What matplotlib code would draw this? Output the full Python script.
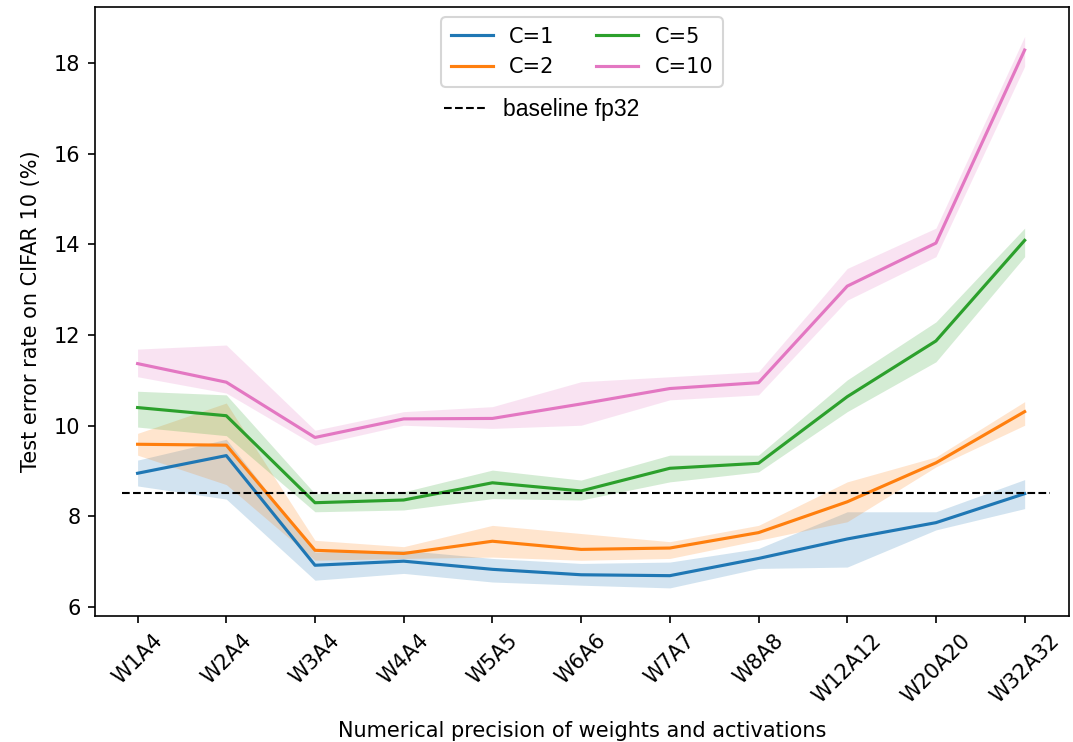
import matplotlib
matplotlib.use("Agg")
import matplotlib.pyplot as plt
import numpy as np

# precision settings on the x axis
labels = ["W1A4", "W2A4", "W3A4", "W4A4", "W5A5", "W6A6", "W7A7", "W8A8",
          "W12A12", "W20A20", "W32A32"]

# mean test error (%) for each C, with lower / upper band
c1 = [8.95, 9.34, 6.92, 7.01, 6.83, 6.71, 6.69, 7.07, 7.50, 7.86, 8.50]
c1_lo = [8.67, 8.38, 6.59, 6.74, 6.55, 6.48, 6.42, 6.85, 6.88, 7.70, 8.17]
c1_hi = [9.24, 9.70, 7.21, 7.25, 7.07, 6.96, 6.99, 7.29, 8.10, 8.10, 8.81]

c2 = [9.59, 9.57, 7.25, 7.18, 7.45, 7.27, 7.30, 7.64, 8.32, 9.18, 10.31]
c2_lo = [9.35, 8.70, 7.03, 7.07, 7.10, 7.03, 7.07, 7.47, 7.88, 9.09, 10.01]
c2_hi = [9.83, 10.50, 7.47, 7.33, 7.80, 7.62, 7.44, 7.80, 8.76, 9.31, 10.53]

c5 = [10.40, 10.22, 8.30, 8.36, 8.74, 8.56, 9.06, 9.17, 10.64, 11.87, 14.09]
c5_lo = [9.97, 9.78, 8.10, 8.14, 8.39, 8.36, 8.76, 8.98, 10.31, 11.41, 13.73]
c5_hi = [10.76, 10.68, 8.50, 8.54, 9.02, 8.80, 9.35, 9.35, 11.01, 12.29, 14.36]

c10 = [11.37, 10.96, 9.74, 10.15, 10.16, 10.48, 10.82, 10.95, 13.08, 14.03, 18.29]
c10_lo = [11.08, 10.72, 9.57, 10.01, 9.94, 10.01, 10.57, 10.68, 12.77, 13.73, 17.93]
c10_hi = [11.69, 11.78, 9.90, 10.31, 10.42, 10.97, 11.08, 11.19, 13.47, 14.36, 18.59]

baseline = 8.52

series = [
    ("C=1", c1, c1_lo, c1_hi, "tab:blue"),
    ("C=2", c2, c2_lo, c2_hi, "tab:orange"),
    ("C=5", c5, c5_lo, c5_hi, "tab:green"),
    ("C=10", c10, c10_lo, c10_hi, "tab:pink"),
]

fig = plt.figure(figsize=(1073 / 150, 742 / 150), dpi=150)
ax = fig.add_axes([95 / 1073, 1 - 616 / 742, 974 / 1073, 609 / 742])

x = np.arange(len(labels))
handles = []
for name, mean, lo, hi, col in series:
    line, = ax.plot(x, mean, color=col, lw=1.5, label=name)
    ax.fill_between(x, lo, hi, color=col, alpha=0.2, lw=0)
    handles.append(line)

base = ax.hlines(baseline, -0.17, 10.29, colors="black", linestyles="dashed",
                 lw=1, label="baseline fp32")

ax.set_xlim(-0.48, 10.5)
ax.set_ylim(5.8, 19.24)
ax.set_yticks([6, 8, 10, 12, 14, 16, 18])
ax.set_xticks(x)
ax.set_xticklabels(labels, rotation=45)
ax.set_xlabel("Numerical precision of weights and activations", labelpad=7)
ax.set_ylabel("Test error rate on CIFAR 10 (%)", labelpad=6)

leg1 = ax.legend(handles=handles, ncol=2, loc="upper center", borderpad=0.45)
ax.add_artist(leg1)
ax.legend(handles=[base], loc="center left", bbox_to_anchor=(0.337, 0.831),
          frameon=False, handlelength=1.8,
          prop={"family": "Liberation Sans", "size": 11})

fig.savefig("out.png", dpi=150)
